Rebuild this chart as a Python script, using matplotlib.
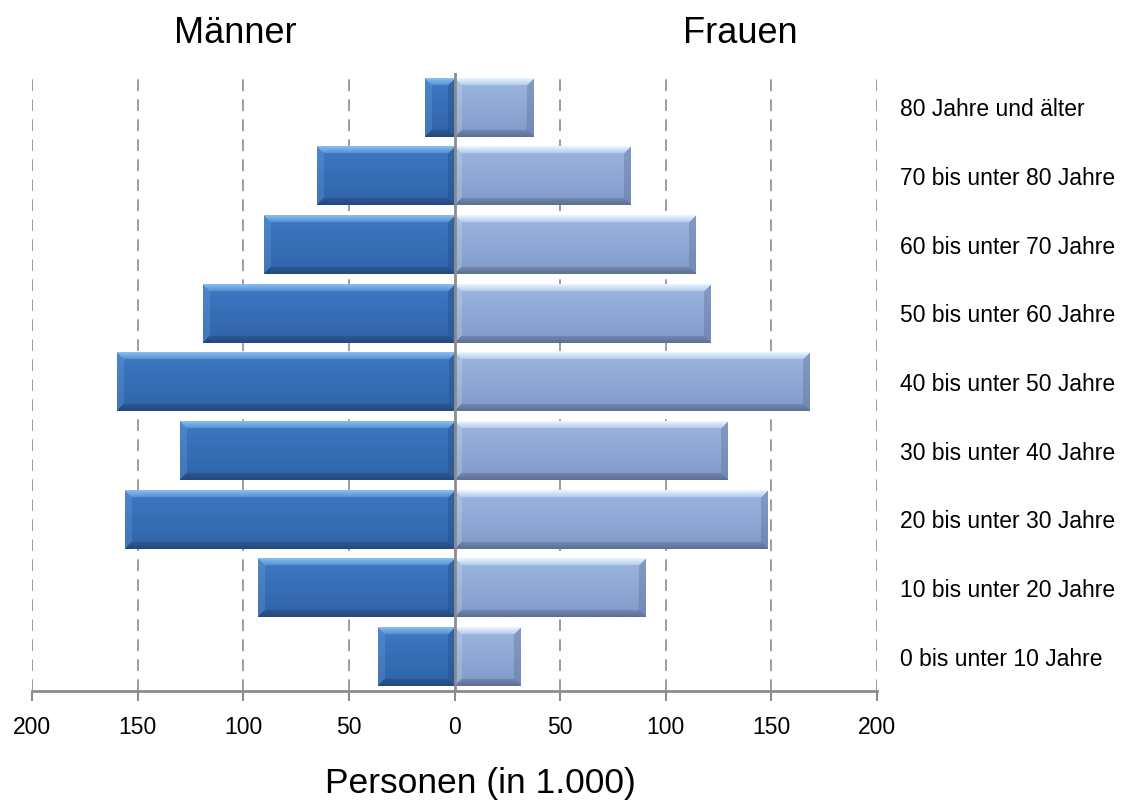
import numpy as np
import matplotlib
matplotlib.use("Agg")
import matplotlib.pyplot as plt
from matplotlib import font_manager
from matplotlib.colors import to_rgb

# Altersgruppen (von unten nach oben) und Bevölkerung in 1.000
altersgruppen = [
    "0 bis unter 10 Jahre",
    "10 bis unter 20 Jahre",
    "20 bis unter 30 Jahre",
    "30 bis unter 40 Jahre",
    "40 bis unter 50 Jahre",
    "50 bis unter 60 Jahre",
    "60 bis unter 70 Jahre",
    "70 bis unter 80 Jahre",
    "80 Jahre und älter",
]
maenner = [36, 93, 156, 130, 160, 119, 90, 65, 14]
frauen = [31, 90, 148, 129, 168, 121, 114, 83, 37]

x_ticks = [-200, -150, -100, -50, 0, 50, 100, 150, 200]

plt.rcParams["font.family"] = ["Liberation Sans", "DejaVu Sans"]

# schmale Schrift für Überschriften, falls vorhanden
vorhanden = {f.name for f in font_manager.fontManager.ttflist}
if "Liberation Sans Narrow" in vorhanden:
    schmal, gross = ["Liberation Sans Narrow", "DejaVu Sans"], 30
else:
    schmal, gross = ["Liberation Sans", "DejaVu Sans"], 26

W, H = 1122, 801
fig = plt.figure(figsize=(W / 100, H / 100), dpi=100)
ax_l, ax_r, ax_t, ax_b = 32, 877, 73, 691
ax = fig.add_axes([ax_l / W, 1 - ax_b / H, (ax_r - ax_l) / W, (ax_b - ax_t) / H])

px_x = (ax_r - ax_l) / 400.0
px_y = (ax_b - ax_t) / len(altersgruppen)


def mix(c1, c2, t):
    return np.array(c1) * (1 - t) + np.array(c2) * t


def bevel_bild(w, h, hell, oben, unten, dunkel, bev=7):
    # Balkenfläche mit Farbverlauf und abgeschrägten Kanten
    w = max(int(round(w)), 2)
    h = max(int(round(h)), 2)
    yy, xx = np.mgrid[0:h, 0:w]
    t = (yy / (h - 1))[..., None]
    img = mix(to_rgb(oben), to_rgb(unten), t)
    d_t = yy
    d_b = h - 1 - yy
    d_l = xx
    d_r = w - 1 - xx
    dmin = np.minimum(np.minimum(d_t, d_b), np.minimum(d_l, d_r))
    rand = dmin < bev
    top = rand & (d_t == dmin)
    bot = rand & (d_b == dmin) & ~top
    left = rand & (d_l == dmin) & ~top & ~bot
    right = rand & (d_r == dmin) & ~top & ~bot & ~left
    hl = np.array(to_rgb(hell))
    dk = np.array(to_rgb(dunkel))
    img[top] = mix(hl, img[top], (d_t[top] / bev)[:, None] * 0.7)
    img[bot] = mix(dk, img[bot], (d_b[bot] / bev)[:, None] * 0.6)
    img[left] = mix(img[left], hl, 0.2)
    img[right] = mix(img[right], dk, 0.4)
    return np.clip(img, 0, 1)


def balken(x0, x1, y, hoehe, farben):
    links, rechts = min(x0, x1), max(x0, x1)
    img = bevel_bild((rechts - links) * px_x, hoehe * px_y, *farben)
    ax.imshow(img, extent=(links, rechts, y - hoehe / 2, y + hoehe / 2),
              aspect="auto", interpolation="bilinear", zorder=3)


farben_m = ("#86bcf2", "#3d79c3", "#3064a8", "#24497c")
farben_f = ("#e6f4ff", "#9cb6e2", "#819ac8", "#5d7096")

hoehe = 0.85
for i in range(len(altersgruppen)):
    balken(-maenner[i], 0, i, hoehe, farben_m)
    balken(0, frauen[i], i, hoehe, farben_f)

ax.set_xlim(-200, 200)
ax.set_ylim(-0.5, len(altersgruppen) - 0.5)

# gestrichelte Gitterlinien, Mittellinie durchgezogen
for xt in x_ticks:
    if xt != 0:
        ax.axvline(xt, color="#8c8c8c", lw=1.2, ls=(0, (7, 5)), zorder=1)
ax.axvline(0, color="#8c8c8c", lw=2, zorder=5)

for s in ["top", "right", "left"]:
    ax.spines[s].set_visible(False)
ax.spines["bottom"].set_color("#8c8c8c")
ax.spines["bottom"].set_linewidth(2)
ax.spines["bottom"].set_zorder(6)
ax.set_xticks(x_ticks)
ax.set_xticklabels([str(abs(v)) for v in x_ticks], fontsize=16.5)
ax.tick_params(axis="x", length=7, width=1.5, color="#8c8c8c", pad=11)
ax.set_yticks([])

for i, name in enumerate(altersgruppen):
    fig.text(900 / W, 1 - (ax_b - (i + 0.5) * px_y) / H, name,
             fontsize=16.5, va="center_baseline", ha="left")

fig.text(235 / W, 1 - 43 / H, "Männer", fontsize=gross, family=schmal,
         ha="center", va="baseline")
fig.text(740 / W, 1 - 43 / H, "Frauen", fontsize=gross, family=schmal,
         ha="center", va="baseline")
fig.text(480 / W, 1 - 793 / H, "Personen (in 1.000)", fontsize=gross - 0.5,
         family=schmal, ha="center", va="baseline")

fig.savefig("out.png", dpi=100)
